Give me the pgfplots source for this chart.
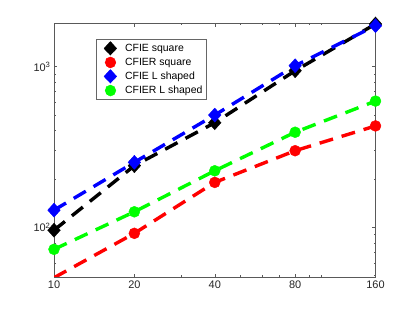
\documentclass[border=0pt]{standalone}
\usepackage{pgfplots}
\pgfplotsset{compat=1.18}
\usepackage{fontspec}
\setmainfont{Liberation Sans}
\begin{document}
\begin{tikzpicture}
\begin{loglogaxis}[
  name=ax,
  scale only axis,
  width=321.5bp, height=253.5bp,
  xmin=10, xmax=160, ymin=49.1, ymax=1858,
  log basis x=10,
  xtick={10,20,40,80,160},
  xticklabels={10,20,40,80,160},
  minor xtick={30,50,60,70,90,100},
  ytick={100,1000},
  yticklabels={10\textsuperscript{2},10\textsuperscript{3}},
  minor ytick={50,60,70,80,90,200,300,400,500,600,700,800,900},
  tick align=inside,
  major tick length=3.5bp, minor tick length=2bp,
  axis line style={black!65, line width=0.5bp},
  every tick/.style={black!65, line width=0.5bp},
  ticklabel style={font=\fontsize{11}{13}\selectfont, text=black!85},
  /pgf/number format/assume math mode=true,
  legend cell align=left,
  legend image code/.code={\path (0cm,0cm) (0.76cm,0cm); \path[#1] plot coordinates {(0.37cm,0cm)};},
  legend style={at={(0.1306,0.9377)}, anchor=north west, draw=black!60,
    font=\fontsize{10.5}{12}\selectfont, row sep=0.6pt, inner xsep=2pt, inner ysep=2pt},
  every axis plot/.append style={line width=3.4bp, dash pattern=on 14bp off 9bp},
]
\addlegendimage{only marks, mark=diamond*, black, mark size=7bp, mark options={xscale=1.2, line width=0.4bp}}
\addlegendentry{CFIE square}
\addlegendimage{only marks, mark=*, red, mark size=5.5bp, mark options={line width=0.4bp}}
\addlegendentry{CFIER square}
\addlegendimage{only marks, mark=diamond*, blue, mark size=7bp, mark options={xscale=1.2, line width=0.4bp}}
\addlegendentry{CFIE L shaped}
\addlegendimage{only marks, mark=*, green, mark size=5.5bp, mark options={line width=0.4bp}}
\addlegendentry{CFIER L shaped}

\addplot[black, mark=diamond*, mark size=7bp, mark options={solid, xscale=1.2, line width=0.4bp}] coordinates {
  (10,96) (20,242) (40,448) (80,944) (160,1845)};
\addplot[red, mark=*, mark size=5.5bp, mark options={solid, line width=0.4bp}] coordinates {
  (10,48.6) (20,91.8) (40,190.5) (80,300) (160,428)};
\addplot[blue, mark=diamond*, mark size=7bp, mark options={solid, xscale=1.2, line width=0.4bp}] coordinates {
  (10,128) (20,254) (40,500) (80,1014) (160,1800)};
\addplot[green, mark=*, mark size=5.5bp, mark options={solid, line width=0.4bp}] coordinates {
  (10,73) (20,125) (40,225) (80,391) (160,611)};
\end{loglogaxis}
\useasboundingbox ([xshift=-54bp,yshift=-35bp]ax.south west) rectangle ([xshift=39.5bp,yshift=23.5bp]ax.north east);
\end{tikzpicture}
\end{document}
